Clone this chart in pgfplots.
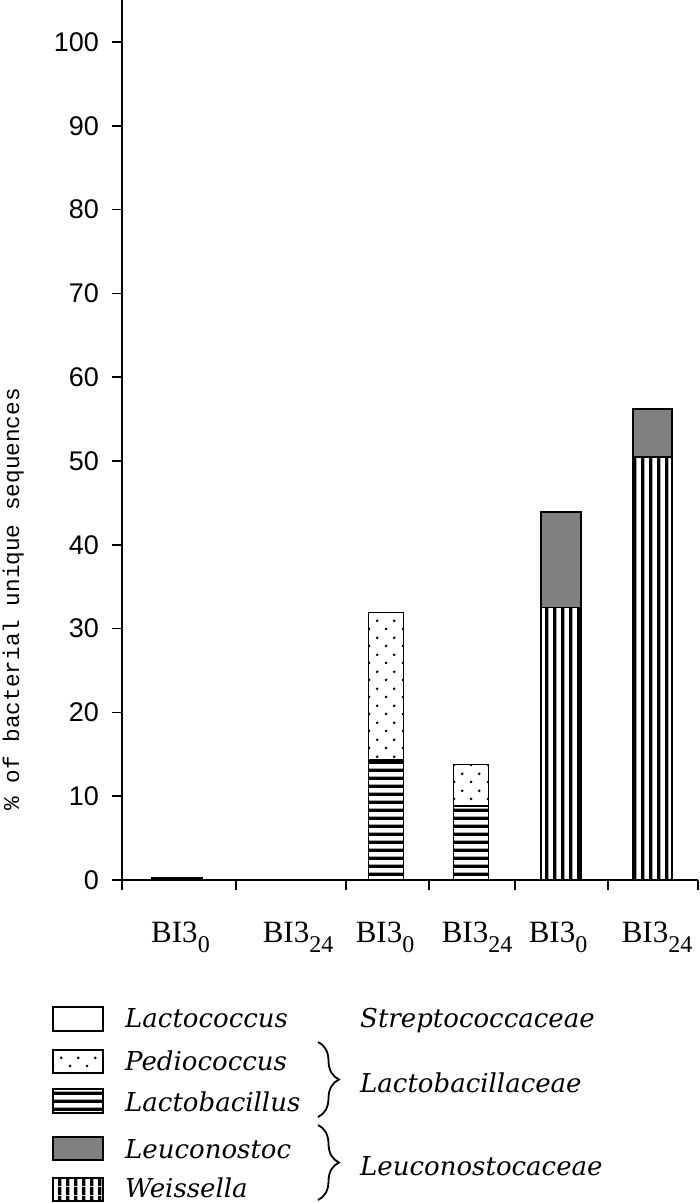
\documentclass[border=0pt]{standalone}
\usepackage{fontspec}
\usepackage{pgfplots}
\pgfplotsset{compat=1.18}
\usetikzlibrary{patterns,decorations.pathreplacing}
\setmainfont{Liberation Serif}
\newfontfamily\tickf{Liberation Sans}
\newfontfamily\monof{Liberation Mono}
\newfontfamily\legf{DejaVu Serif}

\pgfdeclarepatternformonly{hstripes}{\pgfqpoint{0pt}{0pt}}{\pgfqpoint{8.4pt}{8.4pt}}{\pgfqpoint{8.4pt}{8.4pt}}{%
  \pgfpathrectangle{\pgfqpoint{0pt}{0pt}}{\pgfqpoint{8.4pt}{3.5pt}}\pgfusepath{fill}}
\pgfdeclarepatternformonly{vstripes}{\pgfqpoint{0pt}{0pt}}{\pgfqpoint{8.4pt}{8.4pt}}{\pgfqpoint{8.4pt}{8.4pt}}{%
  \pgfpathrectangle{\pgfqpoint{0pt}{0pt}}{\pgfqpoint{3.5pt}{8.4pt}}\pgfusepath{fill}}
\pgfdeclarepatternformonly{stipple}{\pgfqpoint{0pt}{0pt}}{\pgfqpoint{16.6pt}{16.6pt}}{\pgfqpoint{16.6pt}{16.6pt}}{%
  \pgfpathcircle{\pgfqpoint{4.15pt}{4.15pt}}{1.5pt}\pgfpathcircle{\pgfqpoint{12.45pt}{12.45pt}}{1.5pt}\pgfusepath{fill}}

\newcommand{\sub}[1]{\raisebox{-10pt}{\fontsize{24}{24}\selectfont #1}}

\tikzset{
  legtext/.style={anchor=base west, inner sep=0pt, font=\legf\itshape\fontsize{26}{26}\selectfont},
  barbase/.style={ybar, bar shift=0pt, draw=black, line width=1.6pt},
}

\begin{document}
\begin{tikzpicture}
\useasboundingbox (0pt,0pt) rectangle (700pt,-1203pt);
\begin{axis}[
  at={(122pt,-880pt)}, anchor=south west,
  scale only axis, width=576pt, height=880pt,
  xmin=122, xmax=698, ymin=0, ymax=105,
  clip=false,
  axis x line*=bottom, axis y line*=left,
  axis line style={line width=1.6pt, black},
  tick style={line width=1.6pt, black},
  tick align=outside, major tick length=10pt,
  ytick={0,10,...,100},
  xtick={122,236,346,429,515,608,698}, xticklabels={},
  extra x ticks={180.5,298,385,477,558,657},
  extra x tick labels={BI3\sub{0},BI3\sub{24},BI3\sub{0},BI3\sub{24},BI3\sub{0},BI3\sub{24}},
  extra x tick style={tick style={draw=none}},
  /pgf/number format/assume math mode=true,
  yticklabel style={font=\tickf\fontsize{27}{27}\selectfont, inner sep=0pt, xshift=-13pt},
  xticklabel style={font=\fontsize{31}{31}\selectfont, inner sep=0pt, yshift=-32pt},
  ylabel={\% of bacterial unique sequences},
  ylabel style={font=\monof\fontsize{22.7}{22.7}\selectfont, at={(axis description cs:-0.189,0.319)}, anchor=center},
]
% Lactococcus
\addplot[barbase, bar width=50, fill=white, line width=2pt] coordinates {(177,0.25)};
% Pediococcus (top of stack, cumulative)
\addplot[barbase, bar width=35, preaction={fill=white}, pattern=stipple] coordinates {(386,31.9) (471,13.8)};
% Lactobacillus
\addplot[barbase, bar width=35, preaction={fill=white}, pattern=hstripes] coordinates {(386,14.3) (471,8.8)};
% Leuconostoc (top of stack, cumulative)
\addplot[barbase, bar width=39.5, fill=gray] coordinates {(561,43.9) (652.5,56.2)};
% Weissella
\addplot[barbase, bar width=39.5, preaction={fill=white}, pattern=vstripes] coordinates {(561,32.5) (652.5,50.5)};
\end{axis}

% legend
\draw[line width=1.6pt, fill=white] (52.7pt,-1007pt) rectangle (102.7pt,-1031pt);
\draw[line width=1.6pt, preaction={fill=white}, pattern=stipple] (52.7pt,-1050pt) rectangle (102.7pt,-1073pt);
\draw[line width=1.6pt, preaction={fill=white}, pattern=hstripes] (52.7pt,-1089pt) rectangle (102.7pt,-1113pt);
\draw[line width=1.6pt, fill=gray] (52.7pt,-1137pt) rectangle (102.7pt,-1160pt);
\draw[line width=1.6pt, preaction={fill=white}, pattern=vstripes] (52.7pt,-1178pt) rectangle (102.7pt,-1201pt);

\node[legtext] at (125pt,-1027pt) {Lactococcus};
\node[legtext] at (125pt,-1070pt) {Pediococcus};
\node[legtext] at (125pt,-1111pt) {Lactobacillus};
\node[legtext] at (125pt,-1158pt) {Leuconostoc};
\node[legtext] at (125pt,-1197pt) {Weissella};

\node[legtext] at (360pt,-1027pt) {Streptococcaceae};
\node[legtext] at (360pt,-1092pt) {Lactobacillaceae};
\node[legtext] at (360pt,-1175pt) {Leuconostocaceae};

\draw[line width=1.8pt, decorate, decoration={brace, amplitude=21pt}] (318pt,-1042pt) -- (318pt,-1117pt);
\draw[line width=1.8pt, decorate, decoration={brace, amplitude=21pt}] (318pt,-1125pt) -- (318pt,-1200pt);
\end{tikzpicture}
\end{document}
